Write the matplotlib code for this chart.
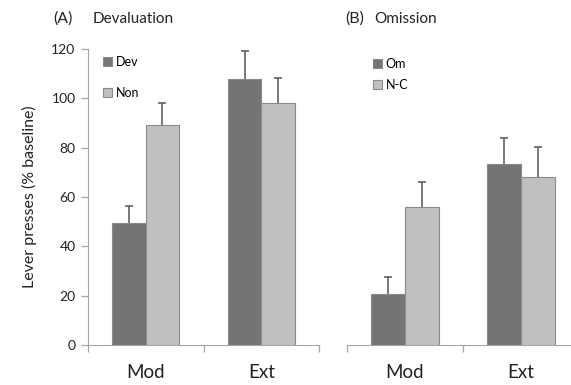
import numpy as np
import matplotlib.pyplot as plt

plt.rcParams['font.family'] = ['Lato', 'DejaVu Sans']

conditions = ["Mod", "Ext"]

# (A) Devaluation
dev_mean = [49.3, 108.0]
dev_err = [7.0, 11.0]
non_mean = [89.2, 98.2]
non_err = [9.0, 10.2]

# (B) Omission
om_mean = [20.6, 73.5]
om_err = [7.0, 10.5]
nc_mean = [56.0, 68.2]
nc_err = [10.0, 12.0]

DARK = "#747474"
LIGHT = "#c0c0c0"
EDGE = "#8a8a8a"
AXIS = "#a6a6a6"
TXT = "#222222"

fig = plt.figure(figsize=(5.71, 3.85), dpi=100)
ax_a = fig.add_axes([88 / 571, 40 / 385, 231 / 571, 296 / 385])
ax_b = fig.add_axes([347 / 571, 40 / 385, 232 / 571, 296 / 385])

width = 0.29
x = np.arange(len(conditions)) + 0.5


def draw_panel(ax, m1, e1, m2, e2, lab1, lab2):
    ax.bar(x - width / 2, m1, width, color=DARK, edgecolor=EDGE, linewidth=0.8, zorder=3, label=lab1)
    ax.bar(x + width / 2, m2, width, color=LIGHT, edgecolor=EDGE, linewidth=0.8, zorder=3, label=lab2)
    ax.errorbar(x - width / 2, m1, yerr=e1, fmt="none", ecolor="#555555", elinewidth=1.1,
                capsize=3, capthick=1.1, zorder=2)
    ax.errorbar(x + width / 2, m2, yerr=e2, fmt="none", ecolor="#555555", elinewidth=1.1,
                capsize=3, capthick=1.1, zorder=2)
    ax.set_xlim(0, 2)
    ax.set_ylim(0, 120)
    for s in ["top", "right"]:
        ax.spines[s].set_visible(False)
    ax.spines["bottom"].set_color(AXIS)
    ax.spines["left"].set_color(AXIS)
    ax.set_xticks(x)
    ax.set_xticklabels(conditions, fontsize=13.5, color=TXT)
    ax.tick_params(axis="x", which="major", length=0, pad=14)
    ax.set_xticks([0, 1, 2], minor=True)
    ax.tick_params(axis="x", which="minor", length=5, color=AXIS, width=0.9)


draw_panel(ax_a, dev_mean, dev_err, non_mean, non_err, "Dev", "Non")
draw_panel(ax_b, om_mean, om_err, nc_mean, nc_err, "Om", "N-C")

ax_a.set_yticks(range(0, 121, 20))
ax_a.tick_params(axis="y", length=5, color=AXIS, width=0.9, labelsize=10, labelcolor=TXT, pad=4)
ax_a.set_ylabel("Lever presses (% baseline)", fontsize=11.5, color=TXT, labelpad=10)

ax_b.spines["left"].set_visible(False)
ax_b.set_yticks([])

# panel titles
fig.text(53 / 571, 1 - 19 / 385, "(A)", fontsize=11.5, color=TXT, va="center")
fig.text(93 / 571, 1 - 19 / 385, "Devaluation", fontsize=11, color=TXT, va="center")
fig.text(345 / 571, 1 - 19 / 385, "(B)", fontsize=11.5, color=TXT, va="center")
fig.text(374 / 571, 1 - 19 / 385, "Omission", fontsize=11, color=TXT, va="center")

ax_a.legend(loc="upper left", bbox_to_anchor=(103 / 571, 1 - 56 / 385), bbox_transform=fig.transFigure,
            frameon=False, fontsize=9, handlelength=0.7, handleheight=0.7, handletextpad=0.3,
            labelspacing=1.5, borderpad=0, borderaxespad=0)
ax_b.legend(loc="upper left", bbox_to_anchor=(373 / 571, 1 - 58 / 385), bbox_transform=fig.transFigure,
            frameon=False, fontsize=9, handlelength=0.7, handleheight=0.7, handletextpad=0.3,
            labelspacing=0.7, borderpad=0, borderaxespad=0)

plt.savefig("out.png", dpi=100)
